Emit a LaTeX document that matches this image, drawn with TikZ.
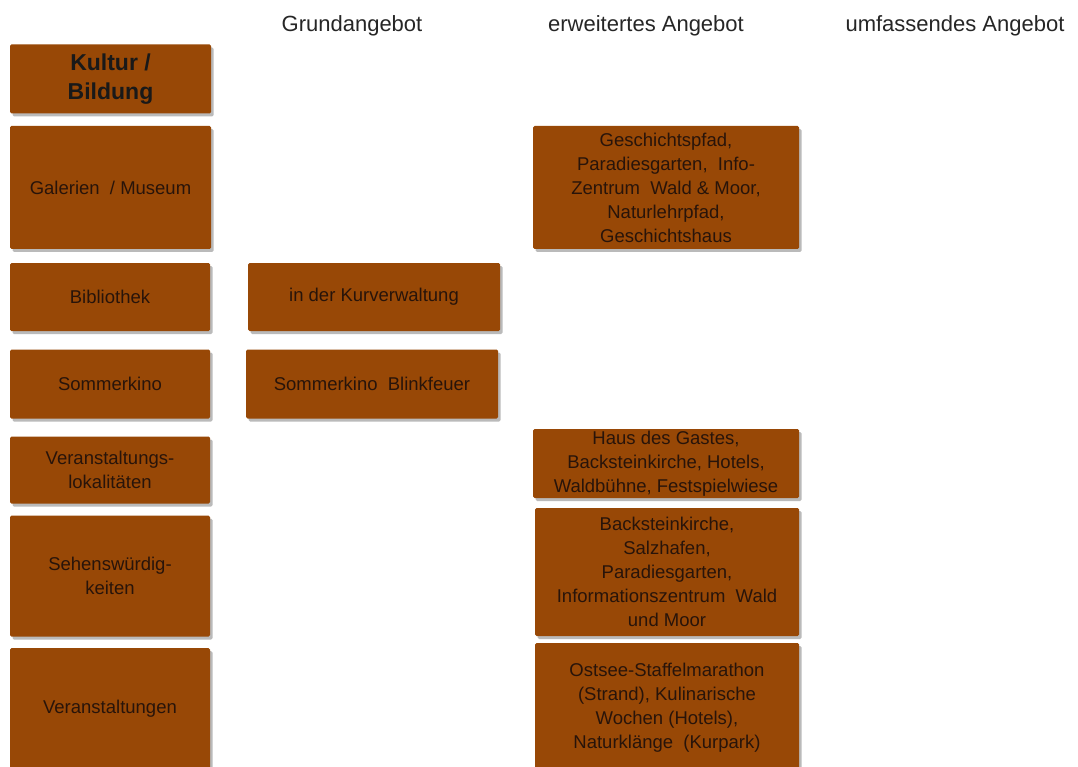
\documentclass[tikz,border=0pt]{standalone}
\usepackage{fontspec}
\setmainfont{Liberation Sans}
\usetikzlibrary{shadows}
\definecolor{boxbrown}{RGB}{152,72,6}
\definecolor{boxtext}{RGB}{40,20,10}
\tikzset{
  x=1pt, y=-1pt,
  box/.style={fill=boxbrown, draw=none, rounded corners=1.5pt, inner sep=0pt,
    align=center, text=boxtext, font=\fontsize{18.5}{24}\selectfont,
    drop shadow={shadow xshift=2.5pt, shadow yshift=-3pt, opacity=0.45, fill=black!60}},
  headbox/.style={box, text=black!90, font=\bfseries\fontsize{23}{29}\selectfont},
  colhead/.style={inner sep=0pt, text=black!85, font=\fontsize{22}{24}\selectfont}
}
\begin{document}
\begin{tikzpicture}
\useasboundingbox (0,0) rectangle (1078,767);
\fill[white] (0,0) rectangle (1078,767);
% column headers
\node[colhead] (h1) at (352,26) {Grundangebot};
\node[colhead] (h2) at (646,26) {erweitertes Angebot};
\node[colhead] (h3) at (955,26) {umfassendes Angebot};
% left column
\node[headbox, minimum width=201, minimum height=69] (kult) at (110.5,79) {Kultur /\\Bildung};
\node[box, minimum width=201, minimum height=123] (gal) at (110.5,187.5) {Galerien\ \ / Museum};
\node[box, minimum width=200, minimum height=68] (bib) at (110,297) {Bibliothek};
\node[box, minimum width=200, minimum height=69] (som) at (110,384) {Sommerkino};
\node[box, minimum width=200, minimum height=67] (vlok) at (110,470) {Veranstaltungs-\\lokalit\"aten};
\node[box, minimum width=200, minimum height=121] (seh) at (110,576) {Sehensw\"urdig-\\keiten};
\node[box, minimum width=200, minimum height=122] (ver) at (110,709) {Veranstaltungen};
% middle column
\node[box, minimum width=252, minimum height=68] (kur) at (374,297) {in der Kurverwaltung};
\node[box, minimum width=252, minimum height=69] (blink) at (372,384) {Sommerkino\ \ Blinkfeuer};
% right column
\node[box, minimum width=266, minimum height=123] (gesch) at (666,187.5) {Geschichtspfad,\\Paradiesgarten,\ \ Info-\\Zentrum\ \ Wald \& Moor,\\Naturlehrpfad,\\Geschichtshaus};
\node[box, minimum width=266, minimum height=69] (haus) at (666,463.5) {Haus des Gastes,\\Backsteinkirche, Hotels,\\Waldb\"uhne, Festspielwiese};
\node[box, minimum width=264, minimum height=128] (back) at (667,572) {Backsteinkirche,\\Salzhafen,\\Paradiesgarten,\\Informationszentrum\ \ Wald\\und Moor};
\node[box, minimum width=264, minimum height=130] (ost) at (667,708) {Ostsee-Staffelmarathon\\(Strand), Kulinarische\\Wochen (Hotels),\\Naturkl\"ange\ \ (Kurpark)};
\end{tikzpicture}
\end{document}
